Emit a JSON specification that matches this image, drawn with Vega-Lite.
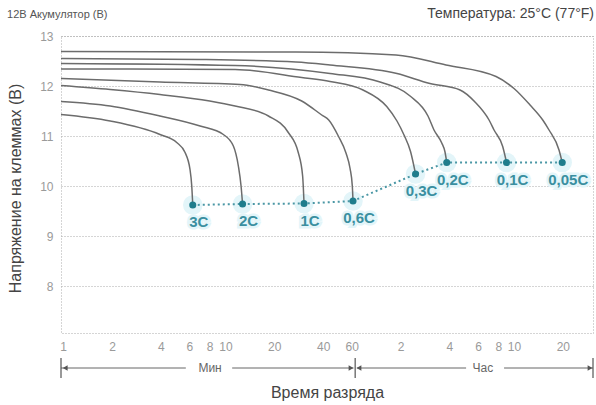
{
  "$schema": "https://vega.github.io/schema/vega-lite/v6.json",
  "width": 532,
  "height": 297,
  "autosize": {"type": "none"},
  "padding": {"left": 61, "top": 36, "right": 3, "bottom": 72},
  "background": "white",
  "config": {
    "view": {"stroke": "#ababab", "strokeDash": [1, 2], "strokeWidth": 1},
    "font": "Liberation Sans"
  },
  "datasets": {
    "curves": [
      {"c": "3C", "t": 0.97, "v": 11.43}, {"c": "3C", "t": 1.95, "v": 11.30}, {"c": "3C", "t": 3.95, "v": 11.03}, {"c": "3C", "t": 5.01, "v": 10.87}, {"c": "3C", "t": 5.64, "v": 10.67}, {"c": "3C", "t": 6.05, "v": 10.33}, {"c": "3C", "t": 6.2, "v": 10.0}, {"c": "3C", "t": 6.29, "v": 9.62},
      {"c": "2C", "t": 0.97, "v": 11.69}, {"c": "2C", "t": 1.95, "v": 11.60}, {"c": "2C", "t": 3.95, "v": 11.40}, {"c": "2C", "t": 6.98, "v": 11.20}, {"c": "2C", "t": 9.71, "v": 11.03}, {"c": "2C", "t": 11.19, "v": 10.80}, {"c": "2C", "t": 12.01, "v": 10.40}, {"c": "2C", "t": 12.48, "v": 10.0}, {"c": "2C", "t": 12.75, "v": 9.64},
      {"c": "1C", "t": 0.97, "v": 12.01}, {"c": "1C", "t": 1.95, "v": 11.93}, {"c": "1C", "t": 3.95, "v": 11.83}, {"c": "1C", "t": 8.0, "v": 11.70}, {"c": "1C", "t": 11.46, "v": 11.60}, {"c": "1C", "t": 18.4, "v": 11.40}, {"c": "1C", "t": 24.4, "v": 11.07}, {"c": "1C", "t": 28.1, "v": 10.67}, {"c": "1C", "t": 29.9, "v": 10.2}, {"c": "1C", "t": 30.5, "v": 9.65},
      {"c": "0,6C", "t": 0.97, "v": 12.15}, {"c": "0,6C", "t": 3.95, "v": 12.08}, {"c": "0,6C", "t": 12.3, "v": 12.03}, {"c": "0,6C", "t": 18.4, "v": 11.92}, {"c": "0,6C", "t": 29.5, "v": 11.70}, {"c": "0,6C", "t": 39.2, "v": 11.42}, {"c": "0,6C", "t": 43.3, "v": 11.32}, {"c": "0,6C", "t": 49.6, "v": 11.0}, {"c": "0,6C", "t": 55.3, "v": 10.66}, {"c": "0,6C", "t": 58.6, "v": 10.35}, {"c": "0,6C", "t": 60.5, "v": 10.0}, {"c": "0,6C", "t": 61.1, "v": 9.70},
      {"c": "0,3C", "t": 0.97, "v": 12.34}, {"c": "0,3C", "t": 11.46, "v": 12.33}, {"c": "0,3C", "t": 29.5, "v": 12.17}, {"c": "0,3C", "t": 44.1, "v": 12.09}, {"c": "0,3C", "t": 70.4, "v": 11.92}, {"c": "0,3C", "t": 98.6, "v": 11.59}, {"c": "0,3C", "t": 114, "v": 11.30}, {"c": "0,3C", "t": 126, "v": 11.02}, {"c": "0,3C", "t": 138.2, "v": 10.69}, {"c": "0,3C", "t": 148.4, "v": 10.24},
      {"c": "0,2C", "t": 0.97, "v": 12.45}, {"c": "0,2C", "t": 11.46, "v": 12.41}, {"c": "0,2C", "t": 44.1, "v": 12.25}, {"c": "0,2C", "t": 89.7, "v": 12.08}, {"c": "0,2C", "t": 137.3, "v": 11.80}, {"c": "0,2C", "t": 177, "v": 11.40}, {"c": "0,2C", "t": 192.8, "v": 11.12}, {"c": "0,2C", "t": 215.2, "v": 10.86}, {"c": "0,2C", "t": 225.4, "v": 10.68}, {"c": "0,2C", "t": 231, "v": 10.47},
      {"c": "0,1C", "t": 0.97, "v": 12.55}, {"c": "0,1C", "t": 6.98, "v": 12.53}, {"c": "0,1C", "t": 27.2, "v": 12.48}, {"c": "0,1C", "t": 44.1, "v": 12.42}, {"c": "0,1C", "t": 114, "v": 12.25}, {"c": "0,1C", "t": 182, "v": 12.05}, {"c": "0,1C", "t": 279, "v": 11.92}, {"c": "0,1C", "t": 345, "v": 11.68}, {"c": "0,1C", "t": 421, "v": 11.32}, {"c": "0,1C", "t": 452, "v": 11.12}, {"c": "0,1C", "t": 511, "v": 10.79}, {"c": "0,1C", "t": 539.5, "v": 10.47},
      {"c": "0,05C", "t": 0.97, "v": 12.69}, {"c": "0,05C", "t": 27.2, "v": 12.68}, {"c": "0,05C", "t": 112.5, "v": 12.62}, {"c": "0,05C", "t": 228.6, "v": 12.42}, {"c": "0,05C", "t": 465, "v": 12.19}, {"c": "0,05C", "t": 600, "v": 11.95}, {"c": "0,05C", "t": 753, "v": 11.62}, {"c": "0,05C", "t": 902, "v": 11.32}, {"c": "0,05C", "t": 986, "v": 11.12}, {"c": "0,05C", "t": 1136, "v": 10.72}, {"c": "0,05C", "t": 1189, "v": 10.47}
    ],
    "points": [
      {"lab": "3C", "t": 6.29, "v": 9.62},
      {"lab": "2C", "t": 12.75, "v": 9.64},
      {"lab": "1C", "t": 30.5, "v": 9.65},
      {"lab": "0,6C", "t": 61.1, "v": 9.70},
      {"lab": "0,3C", "t": 148.4, "v": 10.24},
      {"lab": "0,2C", "t": 231, "v": 10.47},
      {"lab": "0,1C", "t": 539.5, "v": 10.47},
      {"lab": "0,05C", "t": 1189, "v": 10.47}
    ],
    "xgrid": [
      {"t": 2}, {"t": 4}, {"t": 6}, {"t": 8}, {"t": 10}, {"t": 20}, {"t": 40}, {"t": 60},
      {"t": 120}, {"t": 240}, {"t": 360}, {"t": 480}, {"t": 600}, {"t": 1200}
    ],
    "segments": [
      {"t": 0.97, "t2": 5.7, "v": 6.36},
      {"t": 11, "t2": 61.5, "v": 6.36},
      {"t": 64.5, "t2": 304, "v": 6.36},
      {"t": 521, "t2": 1840, "v": 6.36}
    ],
    "bars": [{"t": 0.97, "v": 6.56, "v2": 6.16}, {"t": 63, "v": 6.56, "v2": 6.16}, {"t": 1840, "v": 6.56, "v2": 6.16}],
    "arrows": [
      {"t": 1.03, "v": 6.36, "dir": "left"},
      {"t": 59.4, "v": 6.36, "dir": "right"},
      {"t": 66.5, "v": 6.36, "dir": "left"},
      {"t": 1764, "v": 6.36, "dir": "right"}
    ],
    "notes": [
      {"t": 8.04, "v": 6.36, "text": "Мин", "kind": "unit"},
      {"t": 386, "v": 6.36, "text": "Час", "kind": "unit"},
      {"t": 1840, "v": 13.44, "text": "Температура: 25°C (77°F)", "kind": "right"},
      {"t": 0.451, "v": 13.42, "text": "12В Акумулятор (В)", "kind": "left"}
    ]
  },
  "encoding": {
    "x": {
      "field": "t",
      "type": "quantitative",
      "scale": {"type": "log", "domain": [0.97, 1840], "nice": false, "clamp": false},
      "axis": {
        "values": [1, 2, 4, 6, 8, 10, 20, 40, 60, 120, 240, 360, 480, 600, 1200],
        "labelExpr": "datum.value > 60 ? format(datum.value / 60, 'd') : format(datum.value, 'd')",
        "grid": false,
        "ticks": false,
        "domain": false,
        "labelColor": "#9a9a9a",
        "labelFontSize": 12,
        "labelFont": "Liberation Sans",
        "labelPadding": 8,
        "labelFlush": false,
        "labelOverlap": false,
        "title": "Время разряда",
        "titleFont": "Liberation Sans",
        "titleFontSize": 16,
        "titleFontWeight": "normal",
        "titleColor": "#444444",
        "titleX": 266,
        "titleY": 59,
        "titleBaseline": "middle",
        "titleAlign": "center"
      }
    },
    "y": {
      "field": "v",
      "type": "quantitative",
      "scale": {"domain": [7.06, 13], "zero": false, "nice": false, "clamp": false},
      "axis": {
        "values": [8, 9, 10, 11, 12, 13],
        "grid": true,
        "gridColor": "#ababab",
        "gridDash": [1, 2],
        "gridWidth": 1,
        "ticks": false,
        "domain": false,
        "labelColor": "#9a9a9a",
        "labelFontSize": 12,
        "labelFont": "Liberation Sans",
        "labelPadding": 8,
        "title": "Напряжение на клеммах (В)",
        "titleFont": "Liberation Sans",
        "titleFontSize": 16,
        "titleFontWeight": "normal",
        "titleColor": "#444444",
        "titleAngle": -90,
        "titleX": -46,
        "titleY": 152,
        "titleAlign": "center",
        "titleBaseline": "middle"
      }
    }
  },
  "layer": [
    {
      "data": {"name": "xgrid"},
      "mark": {"type": "rule", "stroke": "#ababab", "strokeDash": [1, 2], "strokeWidth": 1},
      "encoding": {"y": {"datum": 7.06}, "y2": {"datum": 13}}
    },
    {
      "data": {"name": "points"},
      "mark": {"type": "point", "filled": true, "size": 380, "color": "#e3f5f9", "opacity": 1}
    },
    {
      "data": {"name": "curves"},
      "mark": {"type": "line", "interpolate": "monotone", "stroke": "#6c6c6c", "strokeWidth": 1.5},
      "encoding": {"detail": {"field": "c"}}
    },
    {
      "data": {"name": "points"},
      "mark": {"type": "line", "stroke": "#4a97a5", "strokeWidth": 2, "strokeDash": [2, 3]}
    },
    {
      "data": {"name": "points"},
      "mark": {"type": "point", "filled": true, "size": 50, "color": "#1f7d8c", "opacity": 1}
    },
    {
      "data": {"name": "points"},
      "mark": {"type": "text", "dx": 6, "dy": 17, "fontSize": 15, "fontWeight": "bold", "font": "Liberation Sans", "fill": "#e3f5f9", "stroke": "#e3f5f9", "strokeWidth": 5, "baseline": "middle", "align": "center"},
      "encoding": {"text": {"field": "lab"}}
    },
    {
      "data": {"name": "points"},
      "mark": {"type": "text", "dx": 6, "dy": 17, "fontSize": 15, "fontWeight": "bold", "font": "Liberation Sans", "fill": "#3a8fa0", "baseline": "middle", "align": "center"},
      "encoding": {"text": {"field": "lab"}}
    },
    {
      "data": {"name": "segments"},
      "mark": {"type": "rule", "stroke": "#666666", "strokeWidth": 1, "clip": false},
      "encoding": {"x2": {"field": "t2"}}
    },
    {
      "data": {"name": "bars"},
      "mark": {"type": "rule", "stroke": "#555555", "strokeWidth": 1.2, "clip": false},
      "encoding": {"y2": {"field": "v2"}}
    },
    {
      "data": {"name": "arrows"},
      "transform": [{"filter": "datum.dir == 'left'"}],
      "mark": {"type": "point", "shape": "triangle-left", "filled": true, "size": 30, "color": "#555555", "opacity": 1, "clip": false}
    },
    {
      "data": {"name": "arrows"},
      "transform": [{"filter": "datum.dir == 'right'"}],
      "mark": {"type": "point", "shape": "triangle-right", "filled": true, "size": 30, "color": "#555555", "opacity": 1, "clip": false}
    },
    {
      "data": {"name": "notes"},
      "transform": [{"filter": "datum.kind == 'unit'"}],
      "mark": {"type": "text", "fontSize": 12, "font": "Liberation Sans", "fill": "#666666", "baseline": "middle", "align": "center", "clip": false},
      "encoding": {"text": {"field": "text"}}
    },
    {
      "data": {"name": "notes"},
      "transform": [{"filter": "datum.kind == 'right'"}],
      "mark": {"type": "text", "fontSize": 14, "font": "Liberation Sans", "fill": "#444444", "baseline": "middle", "align": "right", "dx": 1, "clip": false},
      "encoding": {"text": {"field": "text"}}
    },
    {
      "data": {"name": "notes"},
      "transform": [{"filter": "datum.kind == 'left'"}],
      "mark": {"type": "text", "fontSize": 11, "font": "Liberation Sans", "fill": "#555555", "baseline": "middle", "align": "left", "clip": false},
      "encoding": {"text": {"field": "text"}}
    }
  ]
}
